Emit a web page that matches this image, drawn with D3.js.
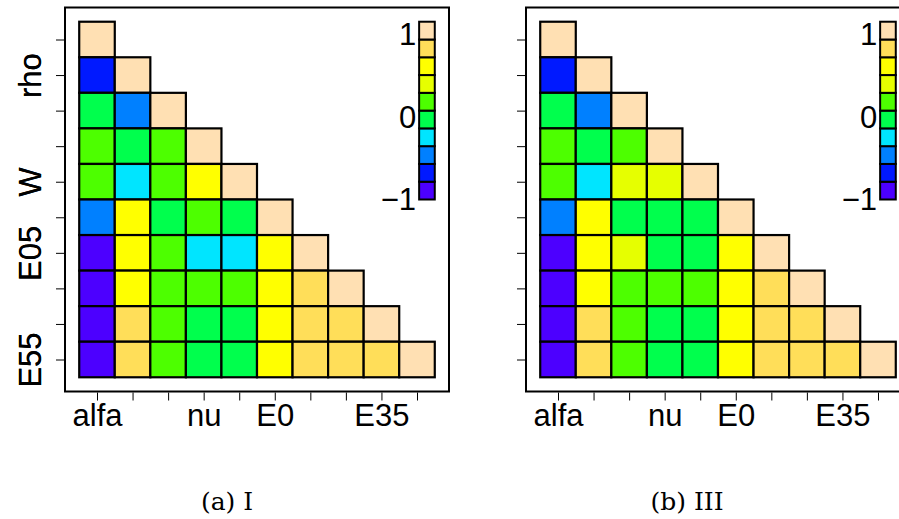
<!DOCTYPE html>
<html>
<head>
<meta charset="utf-8">
<script src="https://cdn.jsdelivr.net/npm/d3@7"></script>
<style>
  body { margin: 0; background: #fff; }
  svg { display: block; }
</style>
</head>
<body>
<svg id="chart" width="899" height="519"></svg>
<script>
// variable order (rows top->bottom, cols left->right)
const variables = ["alfa", "rho", "v3", "nu", "W", "E0", "E05", "v8", "E35", "E55"];
// only some labels are drawn, like R drops overlapping ones
const xTickLabels = ["alfa", "", "", "nu", "", "E0", "", "", "E35", ""];
const yTickLabels = ["", "rho", "", "", "W", "", "E05", "", "", "E55"];

// lower triangle of the correlation matrix, row by row
const corrI = [
  [1.00],
  [-0.70, 1.00],
  [-0.10, -0.50, 1.00],
  [0.10, -0.10, 0.10, 1.00],
  [0.10, -0.30, 0.10, 0.50, 1.00],
  [-0.50, 0.50, -0.10, 0.10, -0.10, 1.00],
  [-0.90, 0.50, 0.10, -0.30, -0.30, 0.50, 1.00],
  [-0.90, 0.50, 0.10, 0.10, 0.10, 0.50, 0.70, 1.00],
  [-0.90, 0.70, 0.10, -0.10, -0.10, 0.50, 0.70, 0.70, 1.00],
  [-0.90, 0.70, 0.10, -0.10, -0.10, 0.50, 0.70, 0.70, 0.70, 1.00]
];
const corrIII = [
  [1.00],
  [-0.70, 1.00],
  [-0.10, -0.50, 1.00],
  [0.10, -0.10, 0.10, 1.00],
  [0.10, -0.30, 0.30, 0.30, 1.00],
  [-0.50, 0.50, -0.10, -0.10, -0.10, 1.00],
  [-0.90, 0.50, 0.30, -0.10, -0.10, 0.50, 1.00],
  [-0.90, 0.50, 0.10, 0.10, 0.10, 0.50, 0.70, 1.00],
  [-0.90, 0.70, 0.10, -0.10, -0.10, 0.50, 0.70, 0.70, 1.00],
  [-0.90, 0.70, 0.10, -0.10, -0.10, 0.50, 0.70, 0.70, 0.70, 1.00]
];

// topo.colors(10)
const palette = ["#4C00FF", "#0019FF", "#0080FF", "#00E5FF", "#00FF4D",
                 "#4DFF00", "#E6FF00", "#FFFF00", "#FFDE59", "#FFE0B3"];
const breaks = [-0.8, -0.6, -0.4, -0.2, 0, 0.2, 0.4, 0.6, 0.8];
const legendTicks = [-1, 0, 1];
const captions = ["(a) I", "(b) III"];

const svg = d3.select("#chart");
const color = d3.scaleThreshold().domain(breaks).range(palette);
const sans = "'Liberation Sans', Arial, sans-serif";

const panels = [
  { data: corrI, left: 65, caption: captions[0], capX: 227 },
  { data: corrIII, left: 526, caption: captions[1], capX: 687 }
];
const plotTop = 7.5, size = 384;
const n = variables.length;

panels.forEach(p => {
  const g = svg.append("g");
  // 4% extension like R's usr
  const x = d3.scaleLinear().domain([0.1, n + 0.9]).range([p.left, p.left + size]);
  const y = d3.scaleLinear().domain([0.1, n + 0.9]).range([plotTop, plotTop + size]);

  const cells = p.data.flatMap((row, i) => row.map((v, j) => ({ i: i + 1, j: j + 1, v })));

  g.selectAll("rect.cell")
    .data(cells)
    .join("rect")
    .attr("class", "cell")
    .attr("x", d => x(d.j - 0.5))
    .attr("y", d => y(d.i - 0.5))
    .attr("width", x(1) - x(0))
    .attr("height", y(1) - y(0))
    .attr("fill", d => color(d.v))
    .attr("stroke", "#000")
    .attr("stroke-width", 2.2);

  // colour key, top-right inside the plot
  const keyX0 = 10.06, keyX1 = 10.5;
  const keyY = d3.scaleBand().domain(d3.range(palette.length).reverse())
    .range([y(0.5), y(5.5)]);
  g.selectAll("rect.key")
    .data(palette)
    .join("rect")
    .attr("class", "key")
    .attr("x", x(keyX0))
    .attr("y", (d, k) => keyY(k))
    .attr("width", x(keyX1) - x(keyX0))
    .attr("height", keyY.bandwidth())
    .attr("fill", d => d)
    .attr("stroke", "#000")
    .attr("stroke-width", 2);

  const keyScale = d3.scaleLinear().domain([-1.01, 1.15]).range([y(5.5), y(0.5)]);
  g.selectAll("text.key")
    .data(legendTicks)
    .join("text")
    .attr("class", "key")
    .attr("x", x(keyX0) - 3)
    .attr("y", d => keyScale(d))
    .attr("dy", "0.36em")
    .attr("text-anchor", "end")
    .attr("font-family", sans)
    .attr("font-size", 31)
    .text(d => d < 0 ? "\u2212" + Math.abs(d) : d);

  // frame
  g.append("rect")
    .attr("x", p.left)
    .attr("y", plotTop)
    .attr("width", size)
    .attr("height", size)
    .attr("fill", "none")
    .attr("stroke", "#000")
    .attr("stroke-width", 2);

  // axes
  const idx = d3.range(1, n + 1);
  const xAxis = g.append("g")
    .attr("transform", `translate(0,${plotTop + size + 1})`)
    .call(d3.axisBottom(x).tickValues(idx).tickSize(8).tickSizeOuter(0)
      .tickFormat(d => xTickLabels[d - 1]));
  const yAxis = g.append("g")
    .attr("transform", `translate(${p.left - 1},0)`)
    .call(d3.axisLeft(y).tickValues(idx).tickSize(8).tickSizeOuter(0)
      .tickFormat(d => yTickLabels[d - 1]));

  [xAxis, yAxis].forEach(a => {
    a.select(".domain").remove();
    a.selectAll(".tick line").attr("stroke", "#000").attr("stroke-width", 1);
    a.selectAll(".tick text")
      .attr("font-family", sans)
      .attr("font-size", 31)
      .attr("fill", "#000");
  });
  xAxis.selectAll(".tick text").attr("y", 33).attr("dy", 0);
  yAxis.selectAll(".tick text")
    .attr("x", 0).attr("dy", 0)
    .attr("text-anchor", "middle")
    .attr("transform", `translate(${41 - p.left + 1},0) rotate(-90)`);

  svg.append("text")
    .attr("x", p.capX)
    .attr("y", 510)
    .attr("text-anchor", "middle")
    .attr("font-family", "'DejaVu Serif', serif")
    .attr("font-size", 25)
    .text(p.caption);
});
</script>
</body>
</html>
